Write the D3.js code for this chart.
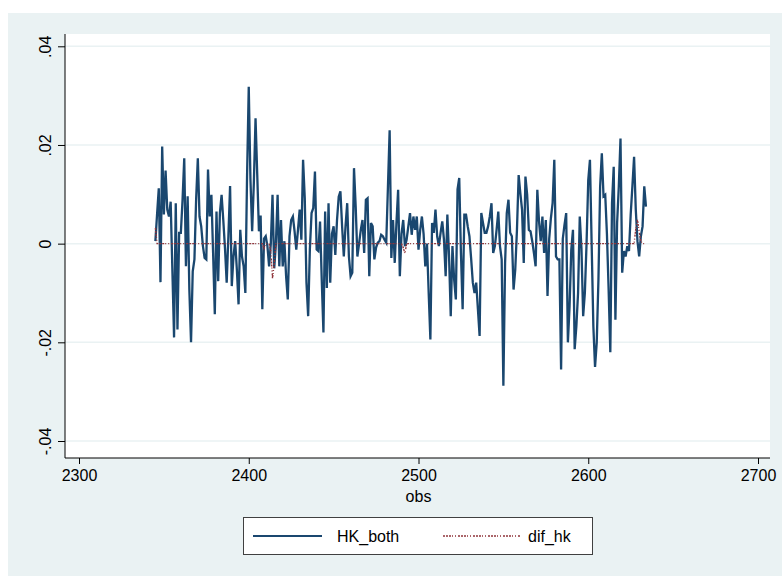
<!DOCTYPE html>
<html>
<head>
<meta charset="utf-8">
<script src="https://cdn.jsdelivr.net/npm/d3@7"></script>
<style>
  body { margin: 0; background: #fff; }
  svg text { font-family: "Liberation Sans", Arial, sans-serif; fill: #000; }
</style>
</head>
<body>
<div id="chart"></div>
<script>
// observation index of the first value
const firstObs = 2345;

// HK_both, one value per obs (2345 .. 2634), ten per row
const hkBoth = [
  .0005, .0060, .0112, -.0078, .0197, .0059, .0148, .0069, .0055, .0085,
  -.0053, -.0190, .0082, -.0174, .0022, .0022, .0089, .0173, -.0046, .0096,
  -.0093, -.0200, -.0056, -.0032, .0090, .0173, .0055, .0035, -.0005, -.0029,
  -.0032, .0150, .0055, .0099, -.0019, -.0143, .0065, -.0076, .0062, .0099,
  .0048, -.0009, -.0079, .0015, .0117, -.0086, -.0026, .0005, -.0053, -.0123,
  .0028, -.0026, -.0046, -.0100, .0136, .0318, .0130, .0025, .0123, .0254,
  .0140, .0025, .0057, -.0133, .0010, .0015, -.0005, -.0046, .0000, .0099,
  -.0050, .0000, .0099, -.0046, .0048, -.0046, .0005, -.0066, -.0113, .0015,
  .0048, .0055, .0025, -.0012, .0028, .0069, .0008, .0170, .0092, -.0079,
  -.0147, -.0012, .0062, .0072, .0146, -.0012, -.0015, .0045, -.0073, -.0180,
  .0065, -.0090, .0082, -.0079, .0020, .0035, -.0023, .0048, .0095, .0106,
  .0035, -.0026, .0035, .0082, -.0026, -.0066, -.0059, .0153, .0075, -.0026,
  .0000, .0028, .0048, -.0019, .0089, .0092, -.0066, .0042, .0035, -.0032,
  -.0008, .0002, .0005, .0018, .0015, .0008, .0002, .0116, .0230, -.0029,
  .0048, -.0039, .0042, .0109, -.0066, .0020, .0048, -.0005, .0008, .0035,
  .0062, .0018, .0055, .0028, .0055, -.0012, .0028, .0055, .0020, -.0046,
  .0000, -.0100, -.0194, .0042, .0022, .0069, .0015, -.0005, .0022, .0045,
  .0008, -.0066, .0059, -.0026, -.0147, -.0005, -.0073, -.0113, .0110, .0133,
  -.0019, -.0133, .0059, .0059, .0035, .0015, -.0030, -.0079, -.0100, -.0079,
  -.0133, -.0187, .0062, .0042, .0022, .0022, .0035, .0055, .0082, -.0019,
  -.0005, .0028, .0065, -.0005, -.0032, -.0288, -.0040, .0062, .0089, .0022,
  .0015, -.0093, -.0053, .0028, .0139, .0102, .0069, -.0039, .0136, .0100,
  .0028, .0025, .0005, -.0019, -.0046, .0109, .0045, .0005, .0055, -.0019,
  .0048, -.0106, .0010, .0052, .0082, .0170, -.0026, -.0032, -.0032, -.0255,
  .0010, .0038, .0062, -.0200, -.0127, -.0012, .0028, -.0214, -.0167, -.0100,
  .0055, -.0010, -.0147, -.0100, .0000, .0129, .0170, .0000, -.0167, -.0250,
  -.0200, -.0073, .0116, .0183, .0096, .0099, .0020, -.0093, -.0220, .0082,
  .0156, -.0154, .0042, .0116, .0213, -.0059, -.0015, -.0026, -.0005, -.0015,
  .0059, .0116, .0176, .0069, .0005, -.0026, .0015, .0035, .0116, .0075
];

// dif_hk, same obs, ten per row
const difHk = [
  .0032, 0, 0, 0, 0, 0, 0, 0, 0, 0,
  0, 0, 0, 0, 0, 0, 0, 0, 0, 0,
  0, 0, 0, 0, 0, 0, 0, 0, 0, 0,
  0, 0, 0, 0, 0, 0, 0, 0, 0, 0,
  0, 0, 0, 0, 0, 0, 0, 0, 0, 0,
  0, 0, 0, 0, 0, 0, 0, 0, 0, 0,
  0, 0, 0, 0, -.0010, 0, 0, 0, -.0015, -.0070,
  -.0040, 0, 0, 0, 0, 0, 0, 0, 0, 0,
  0, 0, 0, 0, 0, 0, 0, 0, 0, 0,
  0, 0, 0, 0, 0, 0, 0, 0, 0, 0,
  0, 0, 0, 0, 0, 0, 0, 0, 0, 0,
  0, 0, 0, 0, 0, 0, 0, 0, 0, 0,
  0, 0, 0, 0, 0, 0, 0, 0, 0, 0,
  0, 0, 0, 0, 0, 0, 0, 0, 0, 0,
  0, 0, 0, 0, 0, 0, -.0008, -.0020, 0, 0,
  0, 0, 0, 0, 0, 0, 0, 0, 0, 0,
  0, 0, 0, 0, 0, 0, 0, 0, 0, 0,
  0, 0, 0, 0, 0, 0, 0, 0, 0, 0,
  0, 0, 0, 0, 0, 0, 0, 0, 0, 0,
  0, 0, 0, 0, 0, 0, 0, 0, 0, 0,
  0, 0, 0, 0, 0, 0, 0, 0, 0, 0,
  0, 0, 0, 0, 0, 0, 0, 0, 0, 0,
  0, 0, 0, 0, 0, 0, 0, 0, 0, 0,
  0, 0, 0, 0, 0, 0, 0, 0, 0, 0,
  0, 0, 0, 0, 0, 0, 0, 0, 0, 0,
  0, 0, 0, 0, 0, 0, 0, 0, 0, 0,
  0, 0, 0, 0, 0, 0, 0, 0, 0, 0,
  0, 0, 0, 0, 0, 0, 0, 0, 0, 0,
  0, 0, 0, .0030, .0048, .0025, .0005, 0, 0, 0
];

const xTicks = [2300, 2400, 2500, 2600, 2700];
const yTicks = [-.04, -.02, 0, .02, .04];
const yTickLabels = ["-.04", "-.02", "0", ".02", ".04"];
const seriesNames = ["HK_both", "dif_hk"];

const width = 782, height = 576;
const plot = {left: 65, right: 770, top: 34, bottom: 458};
const dotDash = "2,1,2,1,2,1,1,2,1,2";

let svg = d3.select("#chart").append("svg")
  .attr("width", width).attr("height", height);

// stata-ish outer background
svg.append("rect")
  .attr("x", 8).attr("y", 13)
  .attr("width", width - 8).attr("height", height - 13)
  .attr("fill", "#eaf2f3");

svg.append("rect")
  .attr("x", plot.left).attr("y", plot.top)
  .attr("width", plot.right - plot.left).attr("height", plot.bottom - plot.top)
  .attr("fill", "#fff");

let x = d3.scaleLinear().domain([2300, 2700]).range([79, 758]);
let y = d3.scaleLinear().domain([-.04, .04]).range([441, 46.3]);

// grid
svg.append("g").selectAll("line")
  .data(yTicks)
  .enter().append("line")
    .attr("x1", plot.left).attr("x2", plot.right)
    .attr("y1", d => y(d)).attr("y2", d => y(d))
    .attr("stroke", "#eaf2f3").attr("stroke-width", 1.5);

let rows = hkBoth.map((v, i) => ({obs: firstObs + i, hk: v, dif: difHk[i]}));

let line = (key) => d3.line()
  .x(d => x(d.obs))
  .y(d => y(d[key]));

svg.append("path")
  .datum(rows)
  .attr("d", line("hk"))
  .attr("fill", "none")
  .attr("stroke", "#1a476f")
  .attr("stroke-width", 2.3);

svg.append("path")
  .datum(rows)
  .attr("d", line("dif"))
  .attr("fill", "none")
  .attr("stroke", "#90353b")
  .attr("stroke-width", 1.4)
  .attr("stroke-dasharray", dotDash);

// axes
let yAxis = d3.axisLeft(y).tickValues(yTicks).tickSize(7)
  .tickFormat((d, i) => yTickLabels[i]);
let gy = svg.append("g")
  .attr("transform", "translate(" + plot.left + ",0)")
  .call(yAxis);
gy.select(".domain").attr("d", "M0," + plot.top + "V" + plot.bottom);
gy.selectAll("text")
  .attr("font-size", 16)
  .attr("x", 0).attr("dy", 0).attr("y", 0)
  .attr("text-anchor", "middle")
  .attr("transform", "translate(-14,0) rotate(-90)");

let xAxis = d3.axisBottom(x).tickValues(xTicks).tickSize(6).tickFormat(d3.format("d"));
let gx = svg.append("g")
  .attr("transform", "translate(0," + plot.bottom + ")")
  .call(xAxis);
gx.select(".domain").attr("d", "M" + plot.left + ",0H" + plot.right);
gx.selectAll("text").attr("font-size", 16).attr("dy", 0).attr("y", 23);

svg.selectAll(".domain, .tick line").attr("stroke", "#000");

svg.append("text")
  .attr("x", x(2500)).attr("y", 502)
  .attr("text-anchor", "middle")
  .attr("font-size", 16)
  .text("obs");

// legend
let lg = svg.append("g");
lg.append("rect")
  .attr("x", 243.5).attr("y", 517.5)
  .attr("width", 349).attr("height", 37)
  .attr("fill", "#fff").attr("stroke", "#404040");
lg.append("line")
  .attr("x1", 253).attr("x2", 322).attr("y1", 536).attr("y2", 536)
  .attr("stroke", "#1a476f").attr("stroke-width", 2);
lg.append("text").attr("x", 337).attr("y", 542).attr("font-size", 16).text(seriesNames[0]);
lg.append("line")
  .attr("x1", 443).attr("x2", 520).attr("y1", 536).attr("y2", 536)
  .attr("stroke", "#90353b").attr("stroke-width", 1.4)
  .attr("stroke-dasharray", dotDash);
lg.append("text").attr("x", 528).attr("y", 542).attr("font-size", 16).text(seriesNames[1]);
</script>
</body>
</html>
